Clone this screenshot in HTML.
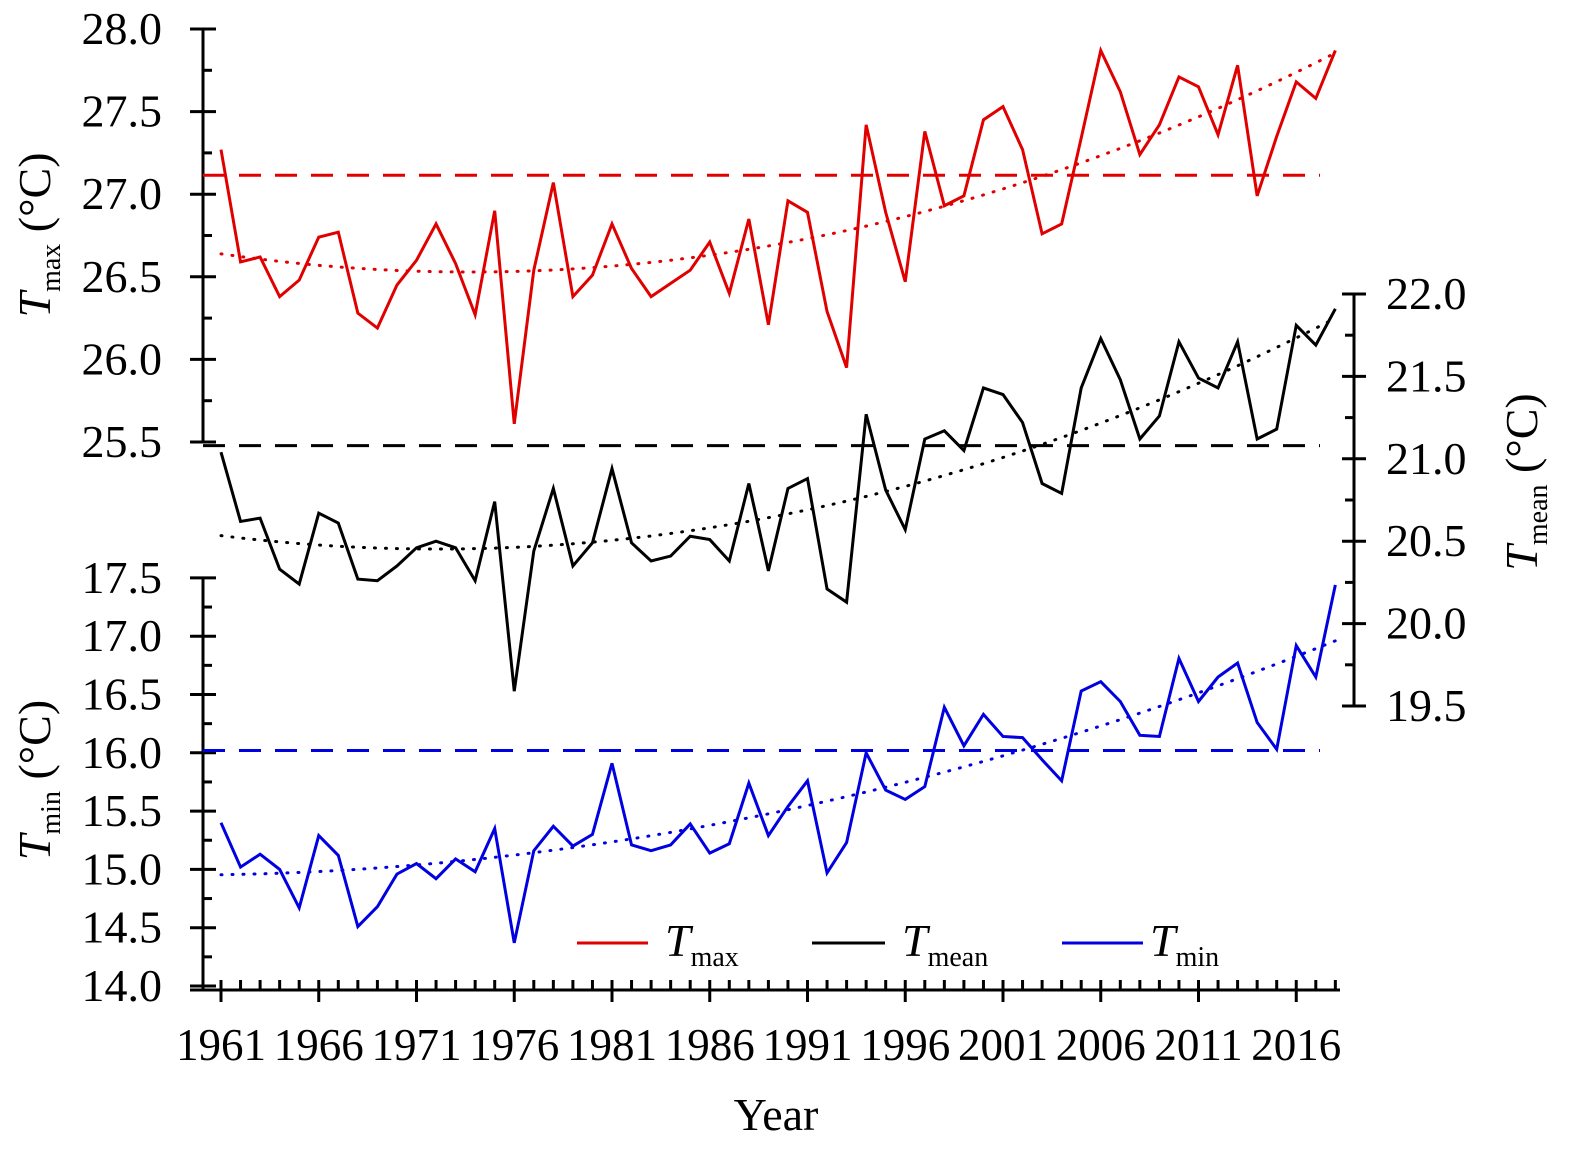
<!DOCTYPE html>
<html><head><meta charset="utf-8"><style>
html,body{margin:0;padding:0;background:#fff;}
svg{display:block;font-family:"Liberation Serif",serif;}
</style></head><body>
<svg id="chart" width="1575" height="1152" viewBox="0 0 1575 1152" xmlns="http://www.w3.org/2000/svg">
<g id="axes"></g>
<g id="series"></g>
<g id="legend">
 <line x1="577" y1="943" x2="648" y2="943" stroke="#e00000" stroke-width="3"/>
 <text x="665" y="956" font-size="46" font-style="italic">T<tspan font-style="normal" font-size="28" dy="10">max</tspan></text>
 <line x1="812" y1="943" x2="885" y2="943" stroke="#000" stroke-width="3"/>
 <text x="902" y="956" font-size="46" font-style="italic">T<tspan font-style="normal" font-size="28" dy="10">mean</tspan></text>
 <line x1="1062" y1="943" x2="1143" y2="943" stroke="#0000e0" stroke-width="3"/>
 <text x="1150" y="956" font-size="46" font-style="italic">T<tspan font-style="normal" font-size="28" dy="10">min</tspan></text>
</g>
<text x="776" y="1130" font-size="46" text-anchor="middle">Year</text>
<text transform="translate(50,235) rotate(-90)" font-size="46" text-anchor="middle"><tspan font-style="italic">T</tspan><tspan font-size="28" dy="10">max</tspan><tspan dy="-10"> (°C)</tspan></text>
<text transform="translate(50,780) rotate(-90)" font-size="46" text-anchor="middle"><tspan font-style="italic">T</tspan><tspan font-size="28" dy="10">min</tspan><tspan dy="-10"> (°C)</tspan></text>
<text transform="translate(1537,482) rotate(-90)" font-size="46" text-anchor="middle"><tspan font-style="italic">T</tspan><tspan font-size="28" dy="10">mean</tspan><tspan dy="-10"> (°C)</tspan></text>
</svg>
<script>
const years = [];
for (let y = 1961; y <= 2018; y++) years.push(y);
const tmaxValues = [27.27,26.59,26.62,26.38,26.48,26.74,26.77,26.28,26.19,26.45,26.60,26.82,26.58,26.27,26.90,25.61,26.54,27.07,26.38,26.51,26.82,26.55,26.38,26.46,26.54,26.71,26.40,26.85,26.21,26.96,26.89,26.29,25.95,27.42,26.89,26.47,27.38,26.93,26.99,27.45,27.53,27.27,26.76,26.82,27.34,27.87,27.62,27.24,27.42,27.71,27.65,27.36,27.78,26.99,27.35,27.68,27.58,27.87];
const tmeanValues = [21.04,20.62,20.64,20.33,20.24,20.67,20.61,20.27,20.26,20.35,20.46,20.50,20.46,20.26,20.74,19.59,20.44,20.82,20.35,20.49,20.94,20.49,20.38,20.41,20.53,20.51,20.38,20.85,20.32,20.82,20.88,20.21,20.13,21.27,20.81,20.57,21.12,21.17,21.05,21.43,21.39,21.22,20.85,20.79,21.43,21.73,21.48,21.12,21.26,21.71,21.49,21.43,21.71,21.12,21.18,21.81,21.69,21.91];
const tminValues = [15.40,15.02,15.13,15.00,14.67,15.29,15.12,14.51,14.68,14.96,15.05,14.92,15.09,14.98,15.35,14.37,15.16,15.37,15.20,15.30,15.91,15.21,15.16,15.21,15.39,15.14,15.22,15.74,15.29,15.54,15.76,14.97,15.23,16.00,15.68,15.60,15.71,16.39,16.06,16.33,16.14,16.13,15.94,15.76,16.53,16.61,16.44,16.15,16.14,16.81,16.44,16.65,16.77,16.26,16.03,16.92,16.65,17.44];
const referenceLines = [27.115, 21.08, 16.02];
const tmaxTicks = ["28.0","27.5","27.0","26.5","26.0","25.5"];
const tmeanTicks = ["22.0","21.5","21.0","20.5","20.0","19.5"];
const tminTicks = ["17.5","17.0","16.5","16.0","15.5","15.0","14.5","14.0"];
const yearLabels = [1961,1966,1971,1976,1981,1986,1991,1996,2001,2006,2011,2016];

const NS = "http://www.w3.org/2000/svg";
const xS = y => 221 + (y - 1961) * 19.55;
const yMax = v => 442 - (v - 25.5) * 165.2;
const yMean = v => 706 - (v - 19.5) * 164.8;
const yMin = v => 986 - (v - 14.0) * 116.6;

function mk(tag, attrs, parent) {
  const e = document.createElementNS(NS, tag);
  for (const k in attrs) e.setAttribute(k, attrs[k]);
  parent.appendChild(e);
  return e;
}
const axes = document.getElementById('axes');
const series = document.getElementById('series');
const ln = (x1,y1,x2,y2,p,name) => {
  const e = mk('line',{x1,y1,x2,y2,stroke:'#000','stroke-width':3},p);
  
  
  return e;
};
const tx = (x,y,s,anchor,name,fs) => {
  const e = mk('text',{x,y,'font-size':fs,'text-anchor':anchor},axes);
  e.textContent = s;
  
  
};

ln(203, yMax(28.0), 203, yMax(25.5), axes, 'y-axis-tmax');
tmaxTicks.forEach(t => {
  const v = parseFloat(t), y = yMax(v);
  ln(190, y, 216, y, axes, 'y-tick-tmax');
  tx(162, y + 15, t, 'end', 'y-tick-label-tmax', 46);
  if (v > 25.5) ln(203, yMax(v - 0.25), 212, yMax(v - 0.25), axes, 'y-minor-tick-tmax');
});
ln(203, yMin(17.5), 203, 990, axes, 'y-axis-tmin');
tminTicks.forEach(t => {
  const v = parseFloat(t), y = yMin(v);
  ln(190, y, 216, y, axes, 'y-tick-tmin');
  tx(162, y + 15, t, 'end', 'y-tick-label-tmin', 46);
  if (v > 14.0) ln(203, yMin(v - 0.25), 212, yMin(v - 0.25), axes, 'y-minor-tick-tmin');
});
ln(1354, yMean(22.0), 1354, yMean(19.5), axes, 'y-axis-tmean');
tmeanTicks.forEach(t => {
  const v = parseFloat(t), y = yMean(v);
  ln(1342, y, 1366, y, axes, 'y-tick-tmean');
  tx(1386, y + 15, t, 'start', 'y-tick-label-tmean', 46);
  if (v > 19.5) ln(1345, yMean(v - 0.25), 1354, yMean(v - 0.25), axes, 'y-minor-tick-tmean');
});
ln(190, 990, 1340, 990, axes, 'x-axis');
years.forEach(yr => {
  const x = xS(yr), major = (yr - 1961) % 5 === 0;
  ln(x, 980, x, major ? 1002 : 990, axes, 'x-tick');
});
yearLabels.forEach(yr => tx(xS(yr), 1060, String(yr), 'middle', 'x-tick-label', 45));

function fit(vals, deg) {
  const n = vals.length, m = deg + 1; let S=new Array(2*m-1).fill(0), T=new Array(m).fill(0);
  vals.forEach((v,i)=>{const t=i/n; for(let k=0;k<2*m-1;k++)S[k]+=t**k; for(let k=0;k<m;k++)T[k]+=v*t**k;});
  const A=[]; for(let i=0;i<m;i++){A.push([]);for(let j=0;j<m;j++)A[i].push(S[i+j]);A[i].push(T[i]);}
  for(let i=0;i<m;i++){for(let j=i+1;j<m;j++){const f=A[j][i]/A[i][i];for(let k=i;k<=m;k++)A[j][k]-=f*A[i][k];}}
  const c=new Array(m).fill(0);
  for(let i=m-1;i>=0;i--){let s=A[i][m];for(let k=i+1;k<m;k++)s-=A[i][k]*c[k];c[i]=s/A[i][i];}
  return vals.map((_,i)=>{const t=i/n;let s=0;for(let k=0;k<m;k++)s+=c[k]*t**k;return s;});
}
function drawSeries(vals, ys, color, name, ref, deg) {
  const r = mk('line',{x1:203,x2:1320,y1:ys(ref),y2:ys(ref),stroke:color,'stroke-width':3,'stroke-dasharray':'22,14'},series);
  
  
  const tr = fit(vals, deg);
  const t = mk('polyline',{points:tr.map((v,i)=>xS(years[i])+','+ys(v)).join(' '),fill:'none',stroke:color,'stroke-width':3,'stroke-dasharray':'1,10','stroke-linecap':'round'},series);
  
  
  const p = mk('polyline',{points:vals.map((v,i)=>xS(years[i])+','+ys(v)).join(' '),fill:'none',stroke:color,'stroke-width':3,'stroke-linejoin':'miter'},series);
  
  
}
drawSeries(tmaxValues, yMax, '#e00000', 'tmax', referenceLines[0], 2);
drawSeries(tmeanValues, yMean, '#000', 'tmean', referenceLines[1], 2);
drawSeries(tminValues, yMin, '#0000e0', 'tmin', referenceLines[2], 2);
</script>
</body></html>
